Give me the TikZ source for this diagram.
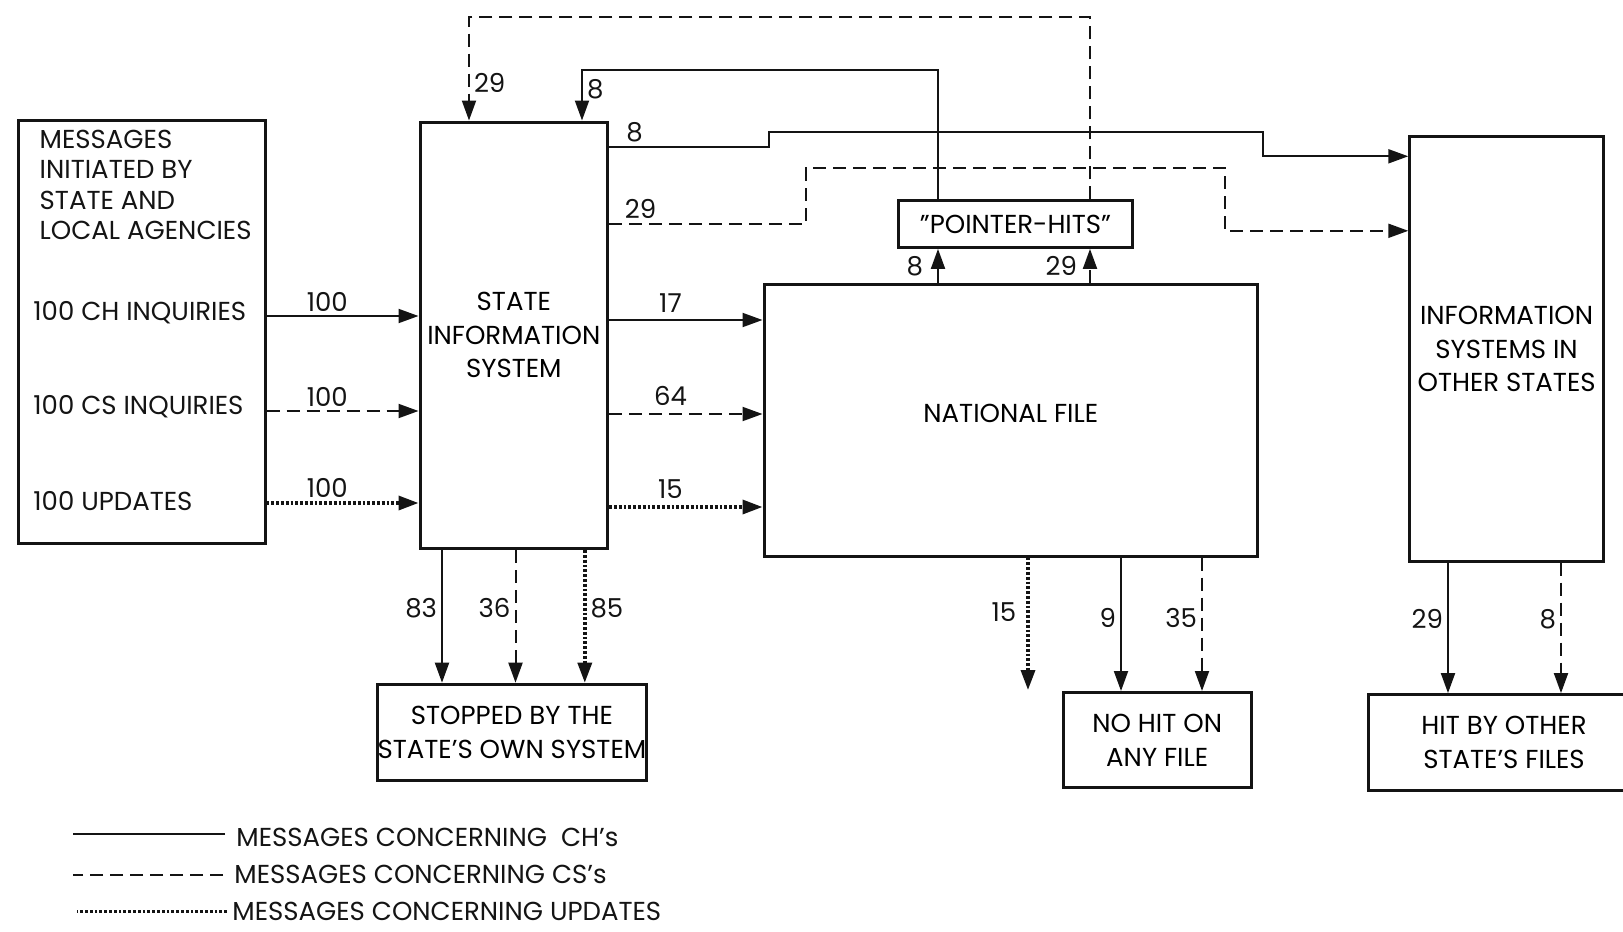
\documentclass[tikz,border=0pt]{standalone}
\usepackage{fontspec}
\setmainfont{Poppins}
\usepackage{tikz}
\usetikzlibrary{
  arrows.meta,
  positioning,
  calc
}
\definecolor{rpInk}{HTML}{141414}
\newcommand{\rptext}{\fontsize{13}{16.8}\selectfont}
\newcommand{\rphead}{\fontsize{13}{15.3}\selectfont}
\tikzset{
  rpbox/.style={
    draw=rpInk, line width=1.5pt, inner sep=0pt, align=center, font=\rptext
  },
  flowtxt/.style={font=\rptext, inner sep=0pt, text=rpInk},
  flowlbl/.style={font=\rptext, inner sep=2pt, text=rpInk},
  chflow/.style={-{Triangle[length=10pt,width=7pt]}, line width=1pt, rpInk},
  csflow/.style={chflow, dash pattern=on 6.5pt off 3.5pt},
  upflow/.style={chflow, line width=1.7pt, dash pattern=on 1.4pt off 1pt},
  legline/.style={line width=1pt, rpInk}
}

\begin{document}
\begin{tikzpicture}[x=0.5pt, y=-0.5pt]
  \useasboundingbox (0,0) rectangle (1623,932);

  \node[rpbox, minimum width=123.2pt, minimum height=211.5pt] (agency) at (141.8,331.5) {};
  \node[flowtxt, anchor=west, align=left, font=\rphead] (agencyhd) at (39.3,185)
    {MESSAGES\\INITIATED BY\\STATE AND\\LOCAL AGENCIES};
  \node[flowtxt, anchor=west] (inCH) at (33,312.6) {100 CH INQUIRIES};
  \node[flowtxt, anchor=west] (inCS) at (33,406.8) {100 CS INQUIRIES};
  \node[flowtxt, anchor=west] (inUP) at (33,501) {100 UPDATES};

  \node[rpbox, minimum width=93.8pt, minimum height=213.3pt] (sis) at (513.8,335.3)
    {STATE\\INFORMATION\\SYSTEM};
  \node[rpbox, minimum width=246.8pt, minimum height=135.7pt, text depth=7pt] (natl) at (1010.8,420.3)
    {NATIONAL FILE};
  \node[rpbox, minimum width=117pt, minimum height=23.3pt] (ptr) at (1015.5,224.1)
    {\char"22 POINTER-HITS\char"22};
  \node[rpbox, minimum width=96.8pt, minimum height=212.2pt] (other) at (1506.6,349)
    {INFORMATION\\SYSTEMS IN\\OTHER STATES};
  \node[rpbox, minimum width=133pt, minimum height=48.2pt] (stop) at (511.9,732.4)
    {STOPPED BY THE\\STATE'S OWN SYSTEM};
  \node[rpbox, minimum width=94.2pt, minimum height=47.6pt] (nohit) at (1157.2,740.1)
    {NO HIT ON\\ANY FILE};
  \node[rpbox, minimum width=135.5pt, minimum height=48.1pt] (hit) at (1504,742.7)
    {HIT BY OTHER\\STATE'S FILES};

  \coordinate (colA) at (938,70);
  \coordinate (colB) at (1090,17);
  \coordinate (upEnd) at (1028,690);

  \foreach \y/\s in {316/chflow, 411/csflow, 503/upflow}
    \draw[\s] (agency.east |- 0,\y) -- node[flowlbl, above, pos=0.4] {100} (sis.west |- 0,\y);
  \foreach \y/\s/\n in {320/chflow/17, 414/csflow/64, 507/upflow/15}
    \draw[\s] (sis.east |- 0,\y) -- node[flowlbl, above=1.5pt, pos=0.4] {\n} (natl.west |- 0,\y);

  \draw[chflow] (natl.north -| colA) -- node[flowlbl, left=5pt] {8} (ptr.south -| colA);
  \draw[csflow] (natl.north -| colB) -- node[flowlbl, left=4pt] {29} (ptr.south -| colB);
  \draw[chflow] (ptr.north -| colA) -- (colA) -| node[flowlbl, right, pos=0.69] {8} (sis.north -| 582,0);
  \draw[csflow] (ptr.north -| colB) -- (colB) -| node[flowlbl, right, pos=0.82] {29} (sis.north -| 469,0);

  \draw[chflow] (sis.east |- 0,147) -- node[flowlbl, above, pos=0.16] {8} (769,147)
    |- (1263,131.5) |- (other.west |- 0,156.3);
  \draw[csflow] (sis.east |- 0,223.6) -- node[flowlbl, above, pos=0.16] {29} (806,223.6)
    |- (1224.5,167.7) |- (other.west |- 0,230.8);

  \foreach \x/\s/\n/\side in {442/chflow/83/left, 515.5/csflow/36/left, 584.8/upflow/85/right}
    \draw[\s] (sis.south -| \x,0) -- node[flowlbl, \side, pos=0.44] {\n} (stop.north -| \x,0);
  \draw[upflow] (natl.south -| upEnd) -- node[flowlbl, left=3pt, pos=0.41] {15} (upEnd);
  \foreach \x/\s/\n in {1121/chflow/9, 1202/csflow/35}
    \draw[\s] (natl.south -| \x,0) -- node[flowlbl, left, pos=0.45] {\n} (nohit.north -| \x,0);
  \foreach \x/\s/\n in {1448/chflow/29, 1561/csflow/8}
    \draw[\s] (other.south -| \x,0) -- node[flowlbl, left, pos=0.43] {\n} (hit.north -| \x,0);

  \node[flowtxt, anchor=west] (lgCH) at (236,837) {MESSAGES CONCERNING\ \ CH's};
  \node[flowtxt, anchor=west] (lgCS) at (234,874.6) {MESSAGES CONCERNING CS's};
  \node[flowtxt, anchor=west] (lgUP) at (232,911.5) {MESSAGES CONCERNING UPDATES};
  \draw[legline] ([xshift=-5.5pt]lgCH.west |- 0,834) -- ++(-152,0);
  \draw[legline, dash pattern=on 6.5pt off 3.5pt] ([xshift=-5.5pt]lgCS.west) -- ++(-150,0);
  \draw[legline, line width=1.7pt, dash pattern=on 1.4pt off 1pt] ([xshift=-2.5pt]lgUP.west) -- ++(-150,0);
\end{tikzpicture}
\end{document}
